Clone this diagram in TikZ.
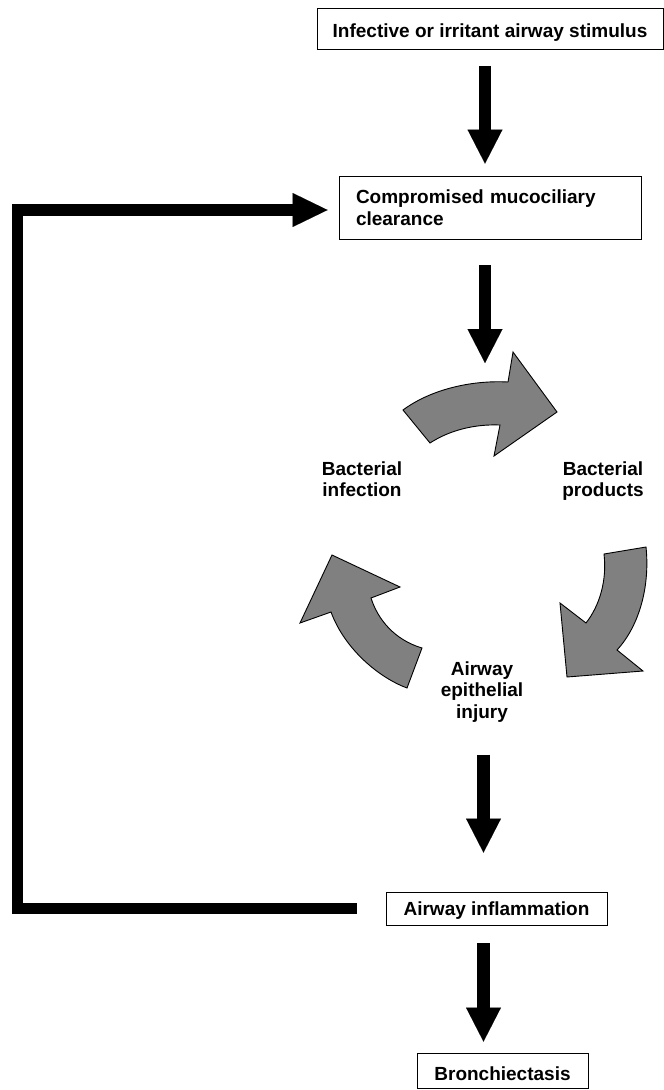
\documentclass[tikz,border=0pt]{standalone}
\usepackage{fontspec}
\setmainfont{Liberation Sans}
\usetikzlibrary{arrows.meta}
\definecolor{arrowgray}{RGB}{128,128,128}
\begin{document}
\begin{tikzpicture}[x=1pt,y=-1pt,
  txt/.style={font=\fontsize{19}{21.5}\selectfont\bfseries, inner sep=0pt, align=center},
  box/.style={draw, line width=0.9pt, inner sep=0pt, font=\fontsize{19}{21.5}\selectfont\bfseries},
  bigarrow/.style={line width=12.5pt, -{Triangle[length=34pt,width=35pt,line width=0.01pt]}},
  feedback/.style={line width=11.5pt, line join=miter, -{Triangle[length=35pt,width=34pt,line width=0.01pt]}},
  cyclearrow/.style={fill=arrowgray, draw=black, line width=0.9pt, line join=miter}]
\useasboundingbox (0,0) rectangle (664,1090);

% boxes
\node[box, minimum width=346pt, minimum height=41pt, text height=17.8pt, text depth=0pt] (b1) at (490,28.8) {Infective or irritant airway stimulus};
\node[box, text width=268pt, inner xsep=17pt, minimum height=63pt, align=left] (b2) at (490,207.5) {Compromised mucociliary\\clearance};
\node[box, minimum width=221pt, minimum height=33pt, text height=13.6pt, text depth=0.6pt] (b3) at (496.5,908.5) {Airway inflammation};
\node[box, minimum width=171pt, minimum height=35pt, text height=19pt, text depth=0pt] (b4) at (502.5,1070.5) {Bronchiectasis};

% cycle labels
\node[txt, anchor=north] (inf) at (362,461.4) {Bacterial\\infection};
\node[txt, anchor=north] (prod) at (603,461.4) {Bacterial\\products};
\node[txt, anchor=north] (inj) at (482,661.4) {Airway\\epithelial\\injury};

% free ends
\coordinate (cyc) at (485,363);
\coordinate (fbL) at (17.5,908.5);
\coordinate (fbT) at (17.5,210);

% block arrows
\draw[bigarrow, shorten <=16pt, shorten >=12pt] ([xshift=-5pt]b1.south) -- ([xshift=-5pt]b1.south |- b2.north);
\draw[bigarrow, shorten <=26pt] ([xshift=-5pt]b2.south) -- (cyc);
\draw[bigarrow, shorten <=32pt, shorten >=39pt] ([xshift=1.5pt]inj.south) -- ([xshift=1.5pt]inj.south |- b3.north);
\draw[bigarrow, shorten <=18pt, shorten >=11pt] ([xshift=-13pt]b3.south) -- ([xshift=-13pt]b3.south |- b4.north);

% feedback loop
\draw[feedback, shorten <=29pt, shorten >=11pt] (b3.west) -- (fbL) -- (fbT) -- ([yshift=-2.5pt]b2.west);

% circular gray arrows
\draw[cyclearrow] (403,410) .. controls (430,390) and (470,380) .. (508,382) -- (513,352) -- (557,412) -- (494,456) -- (500,425) .. controls (475,424) and (450,430) .. (430,443) -- cycle;
\draw[cyclearrow] (604,554) -- (646,547) .. controls (650,585) and (640,625) .. (617,650) -- (643,671) -- (567,677) -- (560,603) -- (586,623) .. controls (600,605) and (607,580) .. cycle;
\draw[cyclearrow] (407,688) .. controls (380,678) and (345,650) .. (331,612) -- (300,623) -- (332,555) -- (400,587) -- (371,598) .. controls (378,620) and (395,640) .. (422,648) -- cycle;
\end{tikzpicture}
\end{document}
